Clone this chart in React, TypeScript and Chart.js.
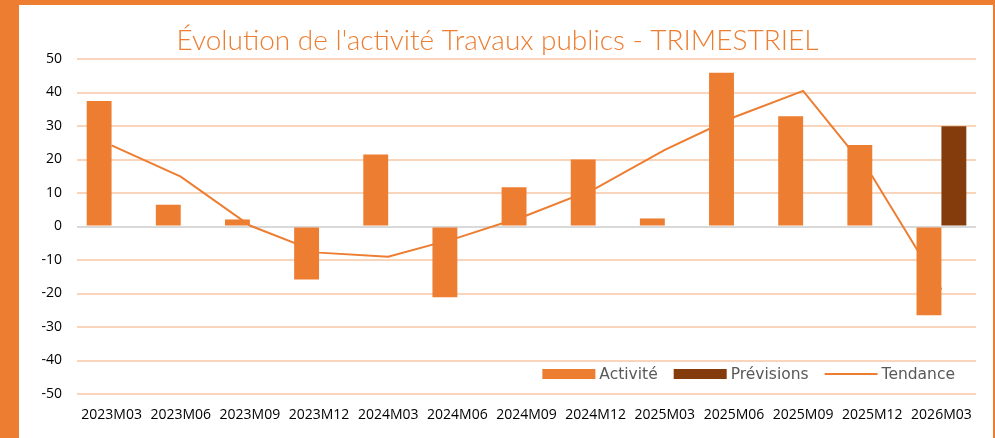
import React, { useEffect, useRef } from "react";
import { Chart, registerables } from "chart.js";

Chart.register(...registerables);

const categories = [
  "2023M03", "2023M06", "2023M09", "2023M12",
  "2024M03", "2024M06", "2024M09", "2024M12",
  "2025M03", "2025M06", "2025M09", "2025M12",
  "2026M03",
];

const activite = [37.5, 6.5, 2.1, -15.8, 21.5, -21.1, 11.7, 20.0, 2.4, 45.9, 32.9, 24.3, -26.5];
const previsions: (number | null)[] = [null, null, null, null, null, null, null, null, null, null, null, null, 29.9];
const tendance = [24.2, 14.9, 0.3, -7.8, -9.0, -3.4, 3.3, 11.4, 22.9, 32.6, 40.5, 15.0, -18.8];

const yMin = -50;
const yMax = 50;
const yStep = 10;

const titleText = "Évolution de l'activité Travaux publics - TRIMESTRIEL";
const seriesNames = ["Activité", "Prévisions", "Tendance"];

const ORANGE = "#ED7D31";
const BROWN = "#843C0C";
const GRID = "#F9D5BC";
const ZERO = "#D9D9D9";
const TITLE_FONT = "Lato, 'DejaVu Sans', sans-serif";
const LEGEND_FONT = "'DejaVu Sans', sans-serif";
const TICK_FONT = "'Open Sans', 'Liberation Sans', sans-serif";

const legendPlugin = {
  id: "insideLegend",
  afterDraw(chart: any) {
    const { ctx, chartArea } = chart;
    const ds = chart.data.datasets;
    ctx.save();
    ctx.font = `15.5px ${LEGEND_FONT}`;
    ctx.textBaseline = "middle";
    const boxW = 53;
    const boxH = 10;
    const textGap = 4;
    const itemGap = 16;
    const widths = seriesNames.map((n) => ctx.measureText(n).width);
    const total = widths.reduce((a, w) => a + boxW + textGap + w, 0) + itemGap * (seriesNames.length - 1);
    let x = chartArea.right - 21 - total;
    const y = chartArea.bottom - 20;
    seriesNames.forEach((name, i) => {
      const d = ds[i];
      if (d.type === "line") {
        ctx.strokeStyle = d.borderColor;
        ctx.lineWidth = 2;
        ctx.beginPath();
        ctx.moveTo(x, y);
        ctx.lineTo(x + boxW, y);
        ctx.stroke();
      } else {
        ctx.fillStyle = d.backgroundColor;
        ctx.fillRect(x, y - boxH / 2, boxW, boxH);
      }
      x += boxW + textGap;
      ctx.fillStyle = "#595959";
      ctx.fillText(name, x, y + 1);
      x += widths[i] + itemGap;
    });
    ctx.restore();
  },
};

export default function App() {
  const ref = useRef<HTMLCanvasElement | null>(null);

  useEffect(() => {
    if (!ref.current) return;
    const chart = new Chart(ref.current, {
      type: "bar",
      data: {
        labels: categories,
        datasets: [
          {
            type: "bar",
            label: seriesNames[0],
            data: activite,
            backgroundColor: ORANGE,
            order: 1,
            barPercentage: 1,
            categoryPercentage: 0.72,
          },
          {
            type: "bar",
            label: seriesNames[1],
            data: previsions,
            backgroundColor: BROWN,
            order: 2,
            barPercentage: 1,
            categoryPercentage: 0.72,
          },
          {
            type: "line",
            label: seriesNames[2],
            data: tendance,
            borderColor: ORANGE,
            backgroundColor: ORANGE,
            borderWidth: 2,
            pointRadius: 0,
            tension: 0,
            order: 3,
          },
        ] as any,
      },
      options: {
        animation: false,
        responsive: false,
        devicePixelRatio: 1,
        layout: { padding: { left: 0, right: 17, top: 0, bottom: 8 } },
        plugins: {
          legend: { display: false },
          tooltip: { enabled: false },
          title: {
            display: true,
            text: titleText,
            color: ORANGE,
            font: { family: TITLE_FONT, size: 28, weight: 300 as any, lineHeight: 1.2 },
            padding: { top: 19, bottom: 1.4 },
          },
        },
        scales: {
          x: {
            grid: { display: false, drawTicks: false },
            border: { display: false },
            ticks: {
              color: "#000",
              font: { family: TICK_FONT, size: 14 },
              padding: 13,
              maxRotation: 0,
              autoSkip: false,
            },
            afterFit: (s: any) => {
              s.height = 36;
            },
          },
          y: {
            min: yMin,
            max: yMax,
            grid: {
              drawTicks: false,
              color: (c: any) => (c.tick && c.tick.value === 0 ? ZERO : GRID),
              lineWidth: 2,
            },
            border: { display: false },
            ticks: {
              stepSize: yStep,
              color: "#000",
              font: { family: TICK_FONT, size: 14 },
              padding: 15,
            },
            afterFit: (s: any) => {
              s.width = 58;
            },
          },
        },
      },
      plugins: [legendPlugin],
    });
    return () => chart.destroy();
  }, []);

  return (
    <div
      style={{
        position: "absolute",
        left: 0,
        top: 0,
        width: 995,
        height: 438,
        background: ORANGE,
        overflow: "hidden",
      }}
    >
      <div
        style={{
          position: "absolute",
          left: 19,
          top: 5,
          width: 974,
          height: 433,
          background: "#fff",
        }}
      >
        <canvas ref={ref} width={974} height={433} style={{ display: "block" }} />
      </div>
    </div>
  );
}
